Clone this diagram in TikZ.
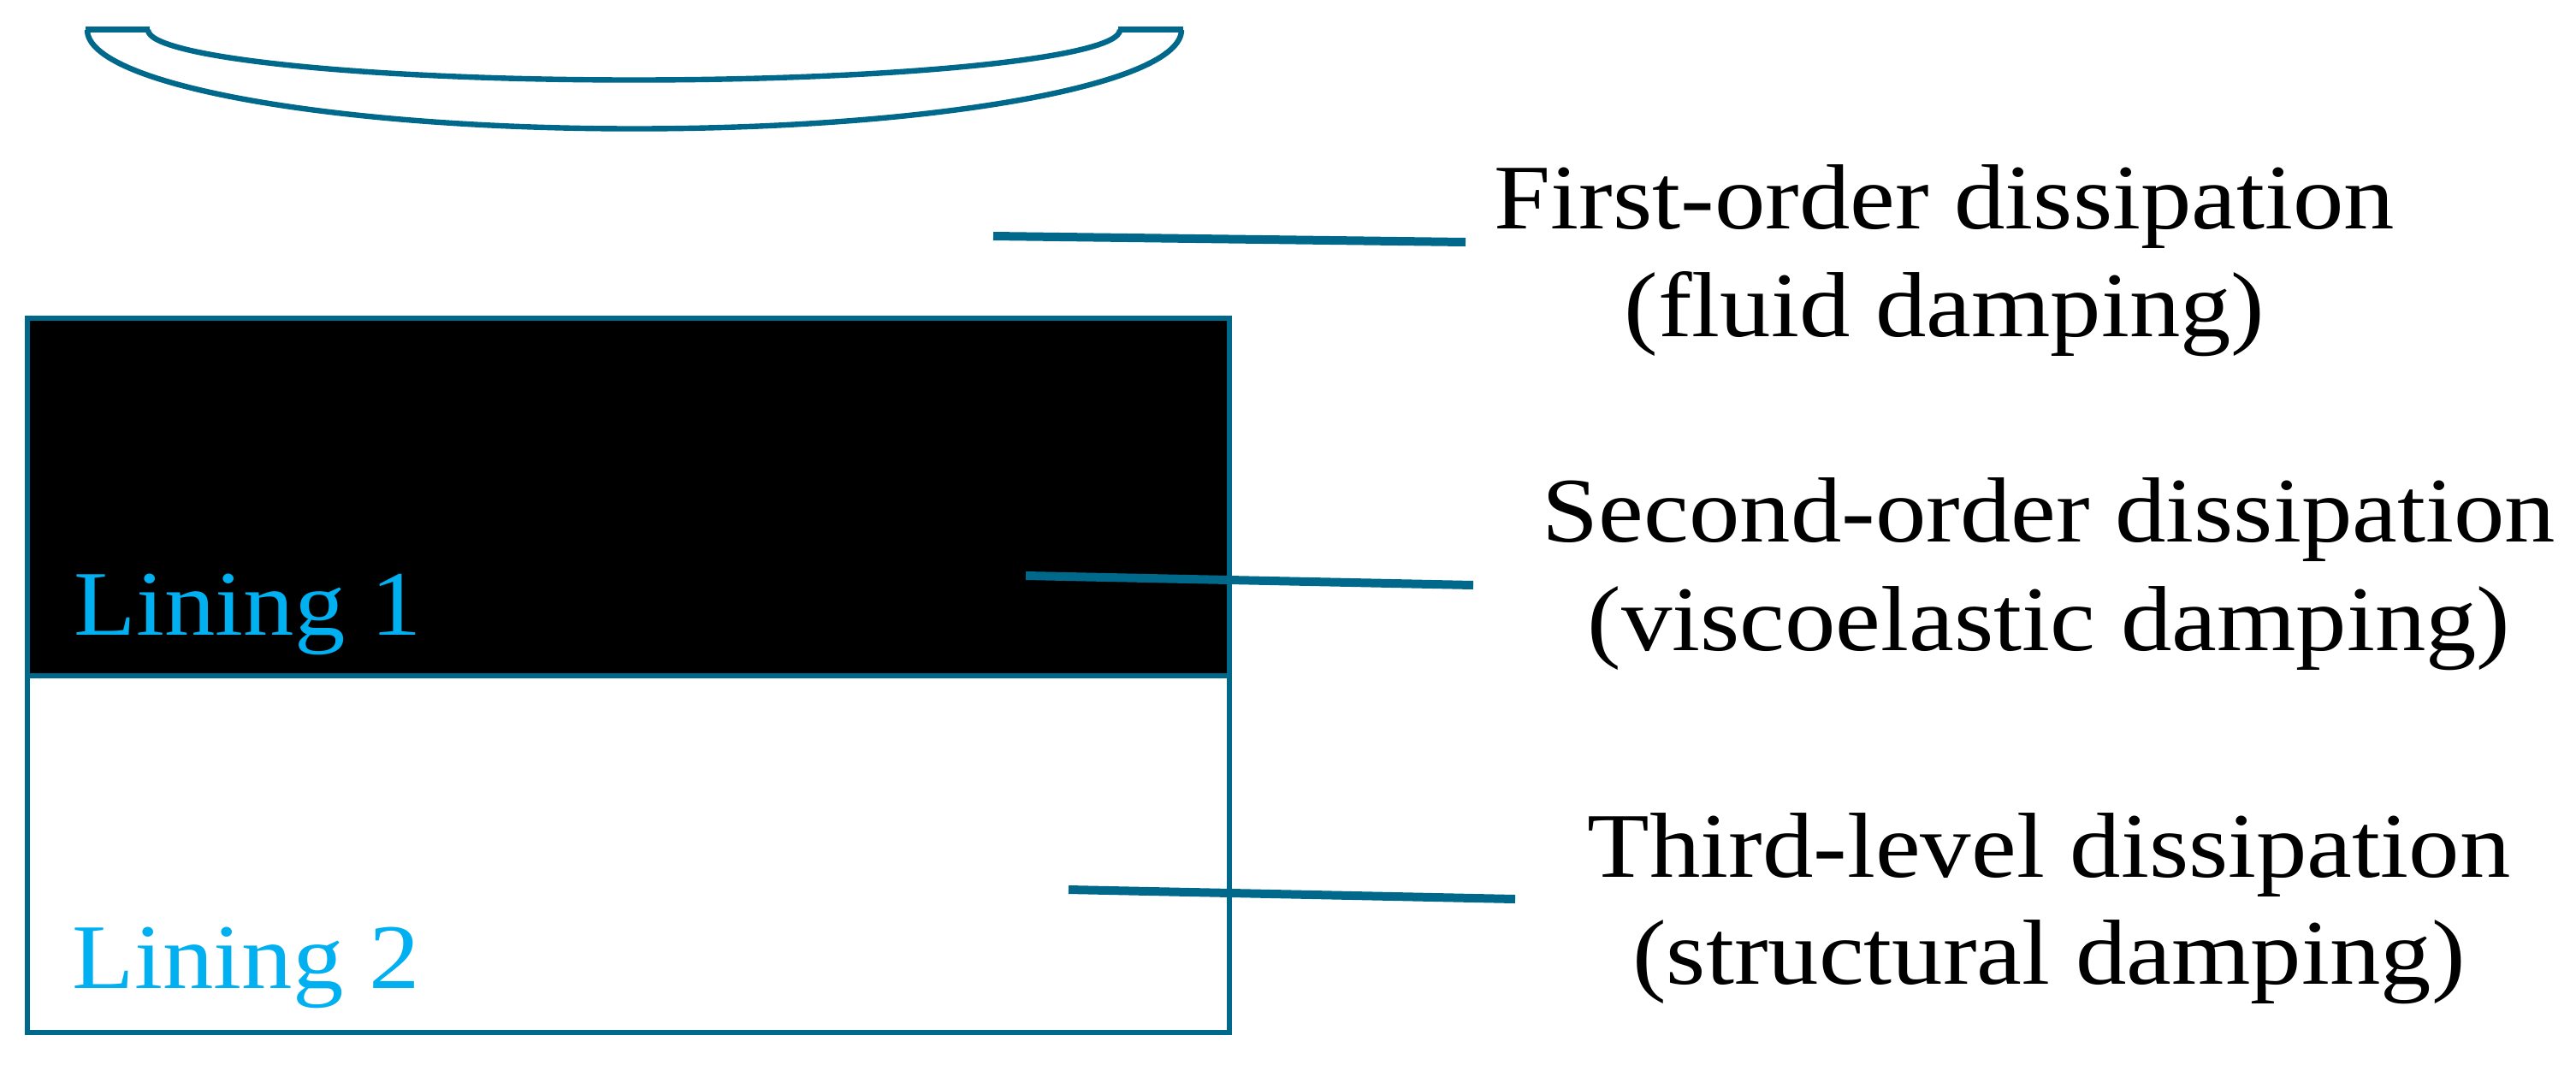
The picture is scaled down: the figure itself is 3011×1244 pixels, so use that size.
\documentclass[tikz,border=0pt]{standalone}
\usepackage{fontspec}
\setmainfont{Liberation Serif}
\newfontfamily\lblfont[FakeStretch=1.1]{Liberation Serif}
\definecolor{tealline}{RGB}{0,104,139}
\definecolor{liningcol}{RGB}{0,176,240}
\begin{document}
\begin{tikzpicture}[x=0.25pt,y=-0.25pt,
  lbl/.style={font=\lblfont\fontsize{27}{32}\selectfont, inner sep=0pt, anchor=base},
  lininglbl/.style={font=\lblfont\fontsize{27}{32}\selectfont, inner sep=0pt, anchor=base west, text=liningcol},
  lead/.style={draw=tealline, line width=2.5pt},
  bowl/.style={draw=tealline, line width=1.6pt},
  layer/.style={draw=tealline, line width=1.3pt}]
\useasboundingbox (0,0) rectangle (3011,1244);
% bowl (top curved shell)
\draw[bowl] (102,35) arc[start angle=180, end angle=0, x radius=639.5, y radius=115.5];
\draw[bowl] (173,35) arc[start angle=180, end angle=0, x radius=568, y radius=58.5];
\draw[draw=tealline, line width=1.8pt] (100,34.5) -- (175,34.5);
\draw[draw=tealline, line width=1.8pt] (1307,34.5) -- (1383,34.5);
% linings
\draw[layer, fill=white] (32,790) rectangle (1437,1207);
\draw[layer, fill=black] (32,372) rectangle (1437,790);
\node[lininglbl] (l1) at (86,742) {Lining 1};
\node[lininglbl] (l2) at (84,1155) {Lining 2};
% labels
\node[lbl] (t1a) at (2273,267) {First-order dissipation};
\node[lbl] (t1b) at (2273,393) {(fluid damping)};
\node[lbl] (t2a) at (2395,633) {Second-order dissipation};
\node[lbl] (t2b) at (2395,760) {(viscoelastic damping)};
\node[lbl] (t3a) at (2395,1025) {Third-level dissipation};
\node[lbl] (t3b) at (2395,1150) {(structural damping)};
% leader lines
\coordinate (s1) at (1161,276);
\coordinate (e1) at (1713,283);
\coordinate (s2) at (1199,673);
\coordinate (e2) at (1722,684);
\coordinate (s3) at (1249,1040);
\coordinate (e3) at (1771,1051);
\draw[lead] (s1) -- (e1);
\draw[lead] (s2) -- (e2);
\draw[lead] (s3) -- (e3);
\end{tikzpicture}
\end{document}
